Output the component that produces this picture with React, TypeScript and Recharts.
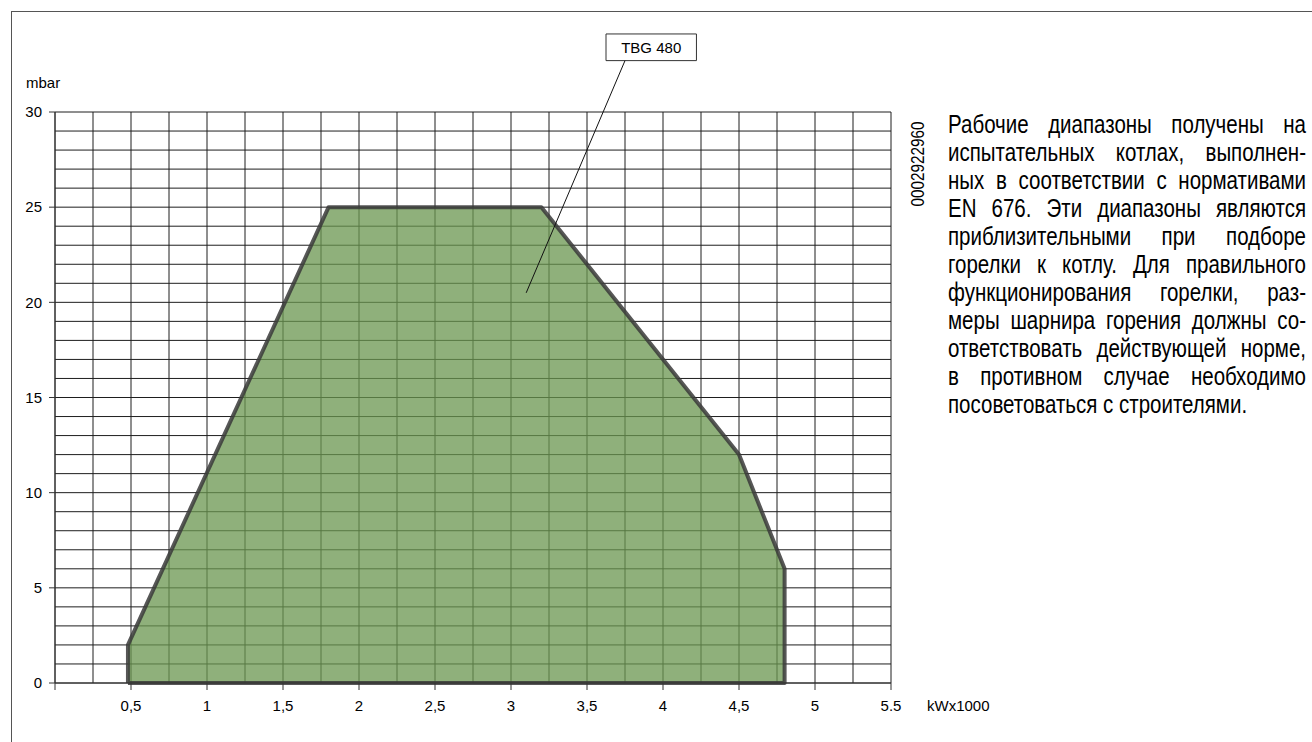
import React from "react";
import {
  ComposedChart,
  Area,
  XAxis,
  YAxis,
  CartesianGrid,
  ReferenceLine,
  ReferenceArea,
} from "recharts";

// outline of the working range, walked round the shape (kW x1000 / mbar)
const powerKw = [0.48, 0.48, 1.8, 3.2, 4.5, 4.8, 4.8, 0.48];
const pressureMbar = [0, 2, 25, 25, 12, 6, 0, 0];

const xTicks = [0, 0.5, 1, 1.5, 2, 2.5, 3, 3.5, 4, 4.5, 5, 5.5];
const xTickLabels = ["", "0,5", "1", "1,5", "2", "2,5", "3", "3,5", "4", "4,5", "5", "5.5"];
const yTicks = [0, 5, 10, 15, 20, 25, 30];

// fine grid: every 0.25 kW and every 1 mbar
const gridX = [
  0, 0.25, 0.5, 0.75, 1, 1.25, 1.5, 1.75, 2, 2.25, 2.5, 2.75, 3, 3.25, 3.5, 3.75,
  4, 4.25, 4.5, 4.75, 5, 5.25, 5.5,
];
const gridY = [
  0, 1, 2, 3, 4, 5, 6, 7, 8, 9, 10, 11, 12, 13, 14, 15, 16, 17, 18, 19, 20, 21, 22,
  23, 24, 25, 26, 27, 28, 29, 30,
];

// "TBG 480" callout box and its leader line
const calloutBox = { x1: 3.625, x2: 4.22, y1: 32.7, y2: 34.1 };
const leader = [
  { x: 3.75, y: 32.7 },
  { x: 3.1, y: 20.5 },
];

const noteLines = [
  "Рабочие диапазоны получены на",
  "испытательных котлах, выполнен-",
  "ных в соответствии с нормативами",
  "EN 676. Эти диапазоны являются",
  "приблизительными при подборе",
  "горелки к котлу. Для правильного",
  "функционирования горелки, раз-",
  "меры шарнира горения должны со-",
  "ответствовать действующей норме,",
  "в противном случае необходимо",
  "посоветоваться с строителями.",
];

const data = powerKw.map((x, i) => ({ x, p: pressureMbar[i] }));

const font = "'Liberation Sans', Arial, sans-serif";

const X_MAX = 5.5;
const Y_MAX = 30;

// note block: Liberation Sans squeezed horizontally to look like Arial Narrow
const NOTE_SCALE = 0.82;
const NOTE_WIDTH = 358;

const vGen = ({ xAxis, offset }: any) =>
  gridX.map((v) =>
    xAxis && typeof xAxis.scale === "function"
      ? xAxis.scale(v)
      : offset.left + (v / X_MAX) * offset.width
  );

const hGen = ({ yAxis, offset }: any) =>
  gridY.map((v) =>
    yAxis && typeof yAxis.scale === "function"
      ? yAxis.scale(v)
      : offset.top + (1 - v / Y_MAX) * offset.height
  );

export default function App() {
  return (
    <div style={{ position: "absolute", left: 0, top: 0, width: 1312, height: 742, background: "#fff", overflow: "hidden" }}>
      {/* page frame */}
      <div
        style={{
          position: "absolute",
          left: 11,
          top: 11,
          width: 1330,
          height: 760,
          borderLeft: "1px solid #555",
          borderTop: "1px solid #555",
        }}
      />
      <ComposedChart
        width={1312}
        height={742}
        data={data}
        margin={{ top: 112, right: 421, bottom: 0, left: 0 }}
        style={{ position: "absolute", left: 0, top: 0 }}
      >
        <CartesianGrid
          stroke="#1e1e1e"
          strokeWidth={1}
          verticalCoordinatesGenerator={vGen}
          horizontalCoordinatesGenerator={hGen}
        />
        <XAxis
          type="number"
          dataKey="x"
          domain={[0, X_MAX]}
          ticks={xTicks}
          tickFormatter={(v: number) => xTickLabels[xTicks.indexOf(v)] ?? ""}
          height={59}
          tickSize={7}
          tickMargin={10}
          stroke="#333"
          tick={{ fill: "#000", fontSize: 15, fontFamily: font }}
          label={{
            content: ({ viewBox }: any) => (
              <text
                x={viewBox.x + viewBox.width + 36}
                y={711}
                fontSize={15}
                fontFamily={font}
                fill="#000"
              >
                kWx1000
              </text>
            ),
          }}
        />
        <YAxis
          type="number"
          domain={[0, Y_MAX]}
          ticks={yTicks}
          width={55}
          tickSize={6}
          tickMargin={7}
          stroke="#333"
          tick={{ fill: "#000", fontSize: 15, fontFamily: font }}
          label={{
            content: ({ viewBox }: any) => (
              <text x={26} y={viewBox.y - 24} fontSize={15} fontFamily={font} fill="#000">
                mbar
              </text>
            ),
          }}
        />
        <Area
          type="linear"
          dataKey="p"
          stroke="#3a3a3a"
          strokeOpacity={0.85}
          strokeWidth={4}
          strokeLinejoin="round"
          fill="#6a964f"
          fillOpacity={0.75}
          isAnimationActive={false}
          dot={false}
          activeDot={false}
        />
        <ReferenceLine segment={leader} stroke="#111" strokeWidth={1} ifOverflow="visible" />
        <ReferenceArea
          x1={calloutBox.x1}
          x2={calloutBox.x2}
          y1={calloutBox.y1}
          y2={calloutBox.y2}
          fill="#fff"
          fillOpacity={1}
          stroke="#333"
          strokeWidth={1}
          ifOverflow="visible"
          label={{ value: "TBG 480", position: "center", fill: "#000", fontSize: 15, fontFamily: font }}
        />
      </ComposedChart>

      {/* drawing number, rotated */}
      <div
        style={{
          position: "absolute",
          left: 918,
          top: 164,
          transform: "translate(-50%, -50%) rotate(-90deg) scaleX(0.85)",
          fontFamily: font,
          fontSize: 18,
          color: "#000",
          whiteSpace: "nowrap",
        }}
      >
        0002922960
      </div>

      {/* side note */}
      <div
        style={{
          position: "absolute",
          left: 948,
          top: 110,
          width: NOTE_WIDTH / NOTE_SCALE,
          transform: `scaleX(${NOTE_SCALE})`,
          transformOrigin: "0 0",
          fontFamily: font,
          fontSize: 25,
          lineHeight: "28px",
          color: "#000",
        }}
      >
        {noteLines.map((line, i) => {
          const last = i === noteLines.length - 1;
          return (
            <div
              key={i}
              style={{
                textAlign: "justify",
                textAlignLast: last ? "left" : "justify",
                wordSpacing: last ? "0px" : "-4px",
                whiteSpace: "nowrap",
              }}
            >
              {line}
            </div>
          );
        })}
      </div>
    </div>
  );
}
